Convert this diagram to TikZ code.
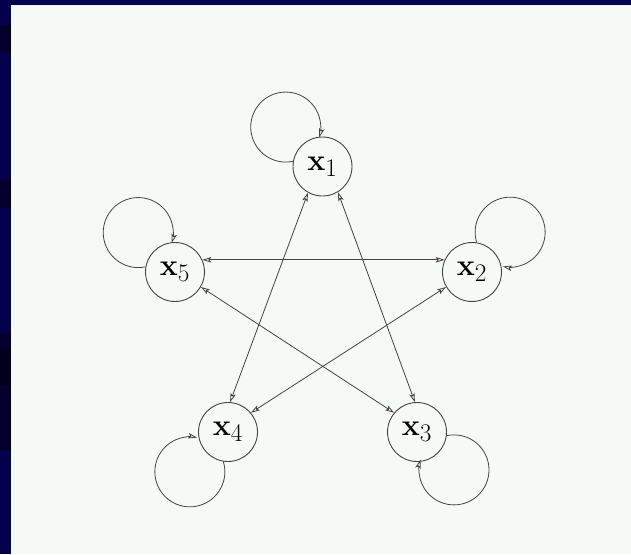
\documentclass[tikz,border=0pt]{standalone}
\usepackage{amsmath,amssymb}
\usetikzlibrary{arrows.meta}
\definecolor{mynavy}{rgb}{0.02,0,0.3}
\definecolor{mydarknavy}{rgb}{0.01,0,0.18}
\definecolor{myblacknavy}{rgb}{0,0,0.11}
\definecolor{mypanel}{rgb}{0.965,0.98,0.97}
\definecolor{myline}{rgb}{0.26,0.26,0.26}
\newcommand{\stlab}[1]{\scalebox{1.22}{$\mathbf{x}_{#1}$}}
\begin{document}
\begin{tikzpicture}[x=1pt,y=1pt,
    state/.style={circle,draw=myline,line width=0.9pt,minimum size=59pt,inner sep=0pt,
                  font=\Huge},
    link/.style={myline,line width=0.8pt,{Stealth[open,length=9pt,width=5.5pt,inset=2pt]}-{Stealth[open,length=9pt,width=5.5pt,inset=2pt]}},
    self/.style={myline,line width=0.8pt,-{Stealth[open,length=9pt,width=5.5pt,inset=2pt]}}]
  \def\lr{35}
  % frame, its darker bands, and the panel
  \fill[mynavy] (0,0) rectangle (631,-554);
  \fill[mydarknavy] (0,-25) rectangle (11,-52);
  \fill[mydarknavy] (0,-180) rectangle (11,-208);
  \fill[mydarknavy] (0,-333) rectangle (11,-450);
  \fill[myblacknavy] (0,-350) rectangle (11,-385);
  \fill[mypanel] (11,-5) rectangle (631,-554);
  \useasboundingbox (0,0) rectangle (631,-554);
  % the five states
  \node[state] (x1) at (322.5,-166.5) {\stlab{1}};
  \node[state] (x5) at (175,-272)     {\stlab{5}};
  \node[state] (x2) at (472,-272)     {\stlab{2}};
  \node[state] (x4) at (228,-432)     {\stlab{4}};
  \node[state] (x3) at (417,-432)     {\stlab{3}};
  % the star of two-way links
  \draw[link] (x5.24)  -- (x2.156);
  \draw[link] (x1.241) -- (x4.86);
  \draw[link] (x1.301) -- (x3.94);
  \draw[link] (x5.330) -- (x3.140);
  \draw[link] (x2.210) -- (x4.40);
  % self loops, all clockwise
  \draw[self] (x1.170) arc[start angle=282, end angle=-17, radius=\lr];
  \draw[self] (x5.170) arc[start angle=282, end angle=-17, radius=\lr];
  \draw[self] (x2.81)  arc[start angle=197, end angle=-102, radius=\lr];
  \draw[self] (x4.261) arc[start angle=17, end angle=-282, radius=\lr];
  \draw[self] (x3.353) arc[start angle=102, end angle=-197, radius=\lr];
\end{tikzpicture}
\end{document}
